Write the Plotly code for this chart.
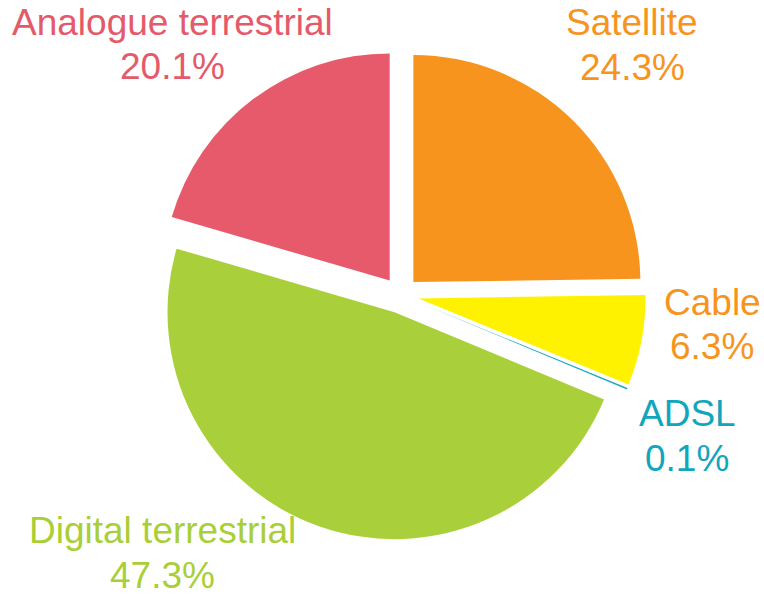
import plotly.graph_objects as go

categories = ["Satellite", "Cable", "ADSL", "Digital terrestrial", "Analogue terrestrial"]
shares = [24.3, 6.3, 0.1, 47.3, 20.1]
slice_colors = ["#F7941D", "#FFF200", "#1AA7C2", "#A9D03A", "#E65A6B"]
label_colors = ["#F7941E", "#F7941E", "#12A6BD", "#A9CF38", "#E45A6A"]
# label centre positions in pixels (x, y of first line)
label_pos = [(632, 23), (712, 302.5), (687, 413.5), (162, 530.5), (172, 22.5)]

W, H = 764, 594
cx, cy, r_total = 400.6, 295.0, 245.2

fig = go.Figure(go.Pie(
    labels=categories,
    values=shares,
    sort=False,
    direction="clockwise",
    rotation=0,
    pull=[0.08] * len(shares),
    marker=dict(colors=slice_colors, line=dict(width=0)),
    textinfo="none",
    hoverinfo="label+value",
    showlegend=False,
    domain=dict(x=[(cx - r_total) / W, (cx + r_total) / W],
                y=[1 - (cy + r_total) / H, 1 - (cy - r_total) / H]),
))

annotations = []
for name, val, col, (px, py) in zip(categories, shares, label_colors, label_pos):
    for text, yy in ((name, py), (f"{val:.1f}%", py + 44.5)):
        annotations.append(dict(
            text=text, x=px / W, y=1 - yy / H, xref="paper", yref="paper",
            xanchor="center", yanchor="middle", showarrow=False,
            font=dict(family="Liberation Sans, Arial, sans-serif", size=37, color=col),
        ))

fig.update_layout(
    width=W, height=H,
    margin=dict(l=0, r=0, t=0, b=0),
    paper_bgcolor="white",
    plot_bgcolor="white",
    annotations=annotations,
)

fig.write_html("out.html")
